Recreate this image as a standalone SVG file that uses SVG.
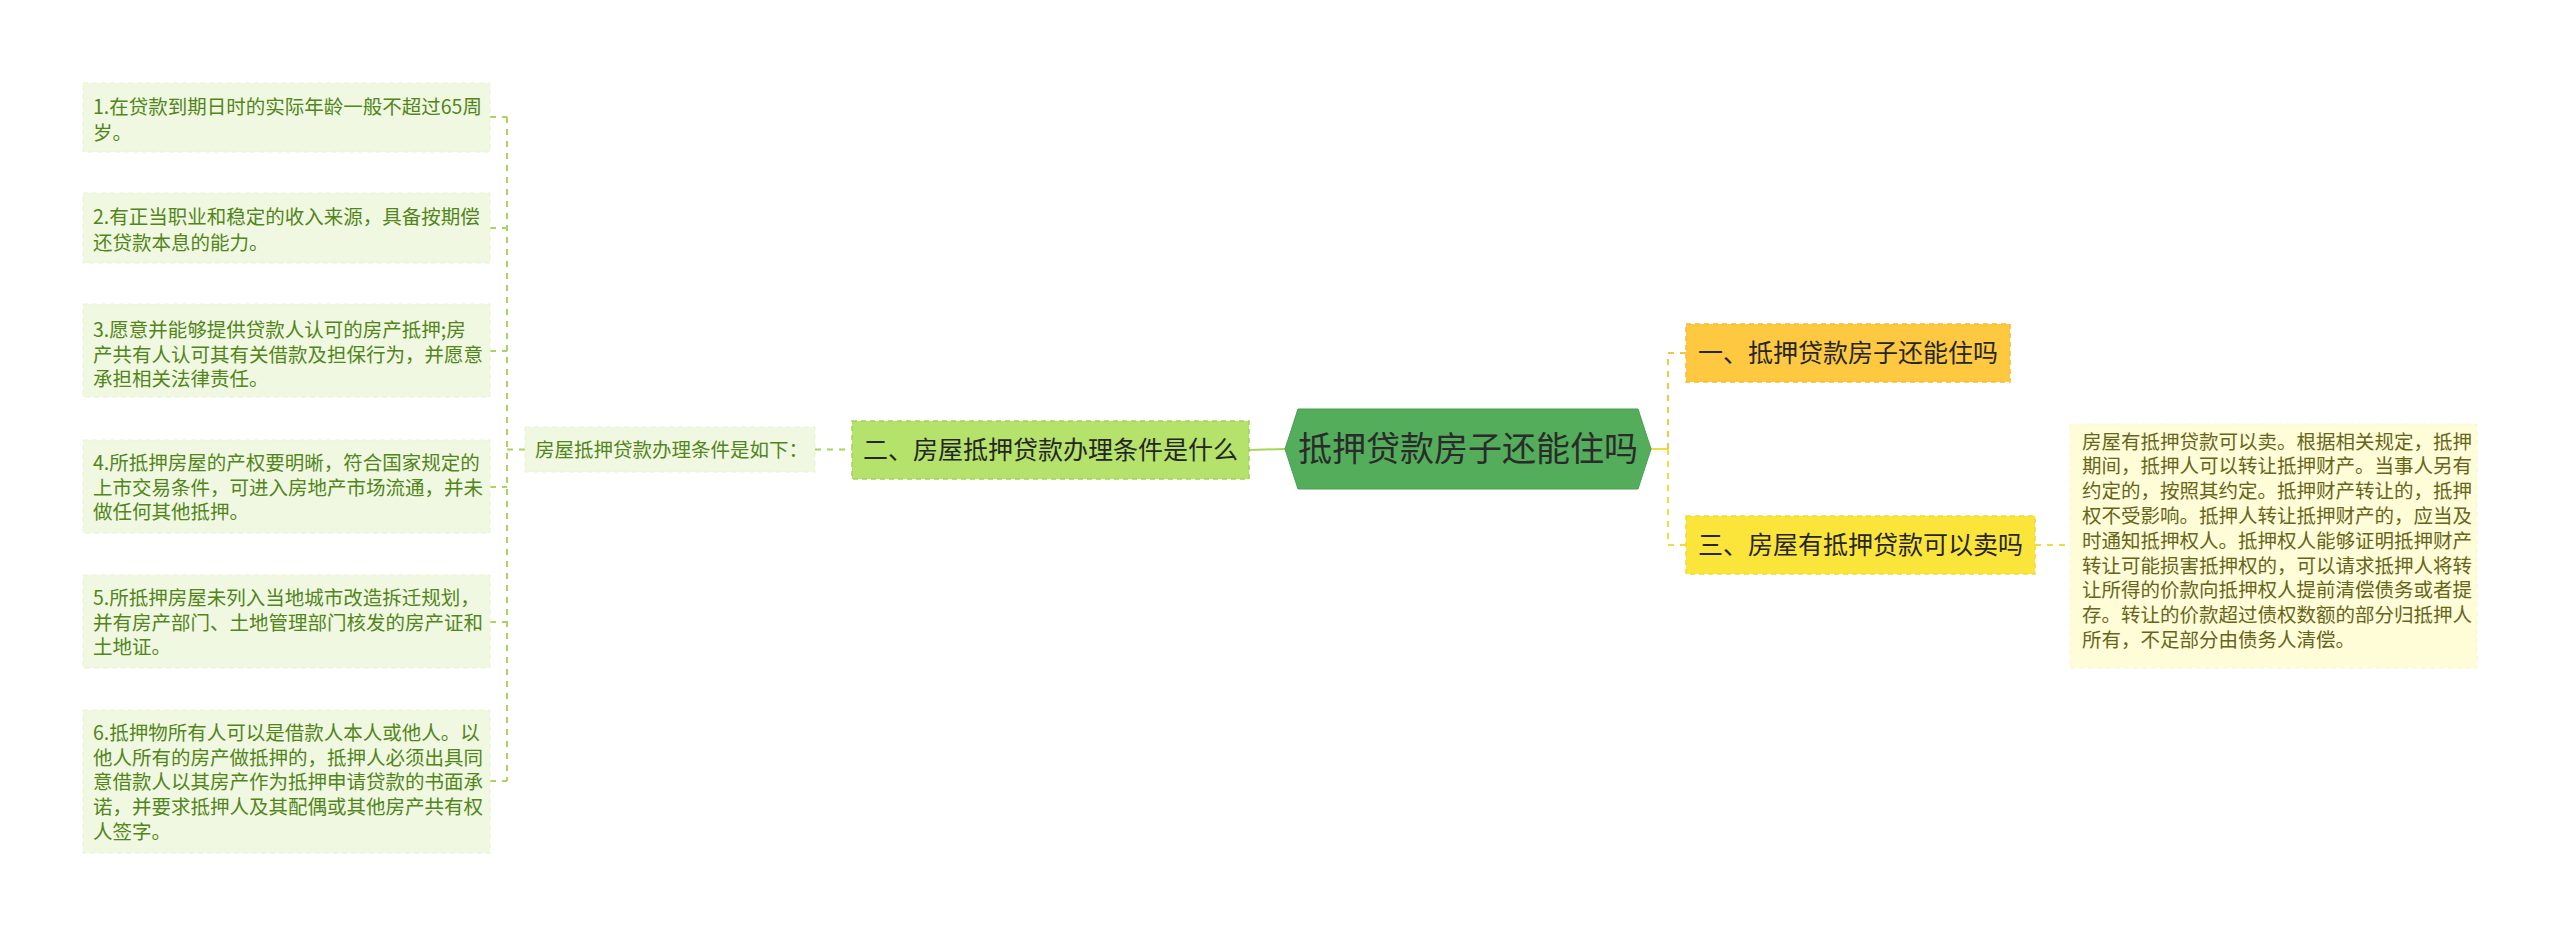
<svg xmlns="http://www.w3.org/2000/svg" width="2560" height="937" viewBox="0 0 2560 937">
<style>
text{font-family:"Noto Sans CJK SC","Noto Sans",sans-serif;}
.root{font-size:34px;fill:#2b2b2b;}
.l2{font-size:25px;fill:#262626;}
.leafL{fill:#f0f8e2;stroke:#e8f3d6;stroke-width:1;stroke-dasharray:5 4;}
.leafR{fill:#fffcd8;stroke:#fbf6d2;stroke-width:1;stroke-dasharray:5 4;}
.tL{font-size:19.5px;fill:#52851a;}
.tR{font-size:19.5px;fill:#66661a;}
.cg{stroke:#a9d45f;stroke-width:2;fill:none;}
.co{stroke:#f4c443;stroke-width:2;fill:none;}
.cy{stroke:#f1dd3a;stroke-width:2;fill:none;}
.d{stroke-dasharray:6 6;}
</style>
<rect width="2560" height="937" fill="#ffffff"/>
<g id="connectors">
<line class="cg" x1="1249" y1="450" x2="1285" y2="449"/>
<line class="cg d" x1="815" y1="449.5" x2="852" y2="449.5"/>
<line class="cg d" x1="525" y1="449.5" x2="507" y2="449.5"/>
<line class="cg d" x1="507" y1="117" x2="507" y2="781"/>
<line class="cg d" x1="490" y1="117" x2="507" y2="117"/>
<line class="cg d" x1="490" y1="228" x2="507" y2="228"/>
<line class="cg d" x1="490" y1="351" x2="507" y2="351"/>
<line class="cg d" x1="490" y1="487" x2="507" y2="487"/>
<line class="cg d" x1="490" y1="622" x2="507" y2="622"/>
<line class="cg d" x1="490" y1="781" x2="507" y2="781"/>
<line class="cy" x1="1651" y1="449" x2="1668" y2="449"/>
<line class="co d" x1="1668" y1="449" x2="1668" y2="353"/>
<line class="co d" x1="1668" y1="353" x2="1686" y2="353"/>
<line class="cy d" x1="1668" y1="449" x2="1668" y2="545"/>
<line class="cy d" x1="1668" y1="545" x2="1686" y2="545"/>
<line class="cy d" x1="2035" y1="545" x2="2070" y2="545"/>
</g>
<g id="root">
<polygon points="1285,449 1298,409 1638,409 1651,449 1638,489 1298,489" fill="#53ad5b" stroke="#4a9e51" stroke-width="1"/>
<text class="root" x="1468" y="461" text-anchor="middle">抵押贷款房子还能住吗</text>
</g>
<g id="n-left">
<rect x="852" y="421" width="397" height="58" fill="#b4e26b" stroke="#a3d158" stroke-width="1.5" stroke-dasharray="5 4"/>
<text class="l2" x="1050.5" y="459" text-anchor="middle">二、房屋抵押贷款办理条件是什么</text>
</g>
<g id="n-one">
<rect x="1686" y="324" width="324" height="58" fill="#fec841" stroke="#f3bc35" stroke-width="1.5" stroke-dasharray="5 4"/>
<text class="l2" x="1848" y="362" text-anchor="middle">一、抵押贷款房子还能住吗</text>
</g>
<g id="n-three">
<rect x="1686" y="516" width="349" height="58" fill="#fbe53b" stroke="#f0d935" stroke-width="1.5" stroke-dasharray="5 4"/>
<text class="l2" x="1860.5" y="554" text-anchor="middle">三、房屋有抵押贷款可以卖吗</text>
</g>
<g id="n-cond">
<rect class="leafL" x="525" y="427" width="290" height="45"/>
<text class="tL" x="535" y="456.5">房屋抵押贷款办理条件是如下：</text>
</g>
<g id="leaf1">
<rect class="leafL" x="83" y="83" width="407" height="69"/>
<text class="tL" x="93" y="114">1.在贷款到期日时的实际年龄一般不超过65周</text>
<text class="tL" x="93" y="139.5">岁。</text>
</g>
<g id="leaf2">
<rect class="leafL" x="83" y="193" width="407" height="70"/>
<text class="tL" x="93" y="224">2.有正当职业和稳定的收入来源，具备按期偿</text>
<text class="tL" x="93" y="249.5">还贷款本息的能力。</text>
</g>
<g id="leaf3">
<rect class="leafL" x="83" y="304" width="407" height="93"/>
<text class="tL" x="93" y="337">3.愿意并能够提供贷款人认可的房产抵押;房</text>
<text class="tL" x="93" y="361.5">产共有人认可其有关借款及担保行为，并愿意</text>
<text class="tL" x="93" y="386">承担相关法律责任。</text>
</g>
<g id="leaf4">
<rect class="leafL" x="83" y="440" width="407" height="93"/>
<text class="tL" x="93" y="470">4.所抵押房屋的产权要明晰，符合国家规定的</text>
<text class="tL" x="93" y="494.5">上市交易条件，可进入房地产市场流通，并未</text>
<text class="tL" x="93" y="519">做任何其他抵押。</text>
</g>
<g id="leaf5">
<rect class="leafL" x="83" y="575" width="407" height="93"/>
<text class="tL" x="93" y="605">5.所抵押房屋未列入当地城市改造拆迁规划，</text>
<text class="tL" x="93" y="629.5">并有房产部门、土地管理部门核发的房产证和</text>
<text class="tL" x="93" y="654">土地证。</text>
</g>
<g id="leaf6">
<rect class="leafL" x="83" y="710" width="407" height="143"/>
<text class="tL" x="93" y="740">6.抵押物所有人可以是借款人本人或他人。以</text>
<text class="tL" x="93" y="764.7">他人所有的房产做抵押的，抵押人必须出具同</text>
<text class="tL" x="93" y="789.4">意借款人以其房产作为抵押申请贷款的书面承</text>
<text class="tL" x="93" y="814.1">诺，并要求抵押人及其配偶或其他房产共有权</text>
<text class="tL" x="93" y="838.8">人签字。</text>
</g>
<g id="leaf-right">
<rect class="leafR" x="2070" y="424" width="407" height="244"/>
<text class="tR" x="2082" y="448.5">房屋有抵押贷款可以卖。根据相关规定，抵押</text>
<text class="tR" x="2082" y="473.3">期间，抵押人可以转让抵押财产。当事人另有</text>
<text class="tR" x="2082" y="498.1">约定的，按照其约定。抵押财产转让的，抵押</text>
<text class="tR" x="2082" y="522.9">权不受影响。抵押人转让抵押财产的，应当及</text>
<text class="tR" x="2082" y="547.7">时通知抵押权人。抵押权人能够证明抵押财产</text>
<text class="tR" x="2082" y="572.5">转让可能损害抵押权的，可以请求抵押人将转</text>
<text class="tR" x="2082" y="597.3">让所得的价款向抵押权人提前清偿债务或者提</text>
<text class="tR" x="2082" y="622.1">存。转让的价款超过债权数额的部分归抵押人</text>
<text class="tR" x="2082" y="646.9">所有，不足部分由债务人清偿。</text>
</g>
</svg>
